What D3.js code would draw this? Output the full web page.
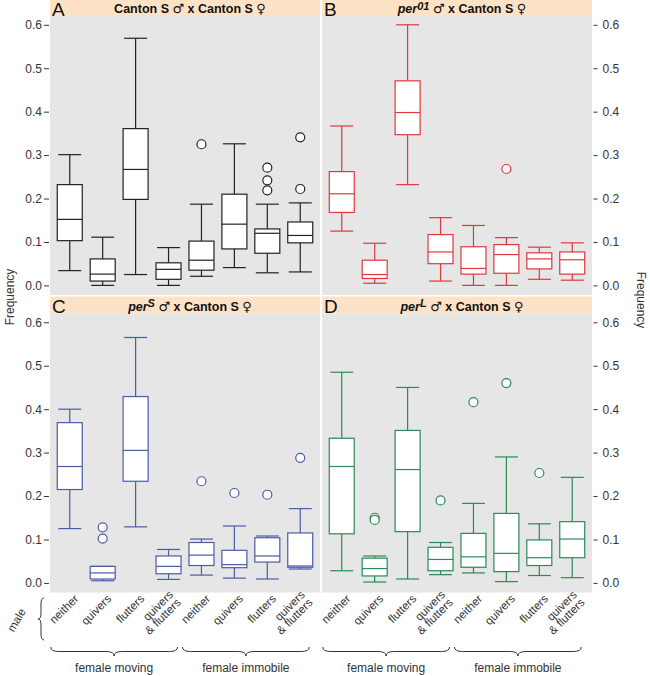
<!DOCTYPE html>
<html><head><meta charset="utf-8">
<script src="https://cdn.jsdelivr.net/npm/d3@7"></script>
<style>body{margin:0;background:#fff}svg{display:block;font-family:"Liberation Sans",Arial,Helvetica,sans-serif}</style>
</head><body><div id="chart"></div>
<script>
// ---- data ----
const categories = ["neither","quivers","flutters","quivers|& flutters","neither","quivers","flutters","quivers|& flutters"];
const groups = ["female moving","female immobile"];
const yTicks = [0,0.1,0.2,0.3,0.4,0.5,0.6];
const panelLetters = ["A","B","C","D"];
const maleLabels = ["", "01", "S", "L"];
const colors = ["#222222","#e0383c","#4a5ca6","#2a8a58"];
// each row: [lower whisker, Q1, median, Q3, upper whisker]
const boxA = [[0.034,0.103,0.152,0.232,0.301],[0.0,0.010,0.026,0.061,0.111],[0.025,0.198,0.267,0.361,0.569],[0.0,0.014,0.037,0.052,0.087],
              [0.021,0.035,0.058,0.102,0.187],[0.041,0.084,0.141,0.210,0.326],[0.029,0.074,0.120,0.130,0.187],[0.031,0.098,0.115,0.146,0.190]];
const outA = [[],[],[],[],[0.325],[],[0.271,0.242,0.219],[0.341,0.222]];
const boxB = [[0.125,0.168,0.211,0.262,0.367],[0.005,0.016,0.025,0.058,0.097],[0.232,0.347,0.398,0.471,0.600],[0.010,0.050,0.077,0.117,0.156],
              [0.0,0.026,0.039,0.089,0.138],[0.0,0.028,0.071,0.094,0.110],[0.014,0.038,0.061,0.075,0.088],[0.012,0.026,0.059,0.077,0.098]];
const outB = [[],[],[],[],[],[0.268],[],[]];
const boxC = [[0.125,0.215,0.268,0.369,0.400],[0.005,0.009,0.023,0.038,0.038],[0.129,0.234,0.305,0.429,0.565],[0.008,0.021,0.038,0.062,0.077],
              [0.018,0.040,0.064,0.093,0.101],[0.011,0.035,0.042,0.075,0.131],[0.009,0.048,0.062,0.104,0.108],[0.032,0.036,0.039,0.115,0.171]];
const outC = [[],[0.128,0.102],[],[],[0.234],[0.207],[0.203],[0.288]];
const boxD = [[0.028,0.113,0.268,0.333,0.485],[0.002,0.016,0.033,0.057,0.062],[0.009,0.118,0.261,0.351,0.450],[0.019,0.028,0.054,0.082,0.093],
              [0.023,0.036,0.060,0.114,0.183],[0.003,0.026,0.068,0.160,0.290],[0.017,0.040,0.058,0.099,0.136],[0.012,0.058,0.101,0.141,0.243]];
const outD = [[],[0.150,0.145],[],[0.190],[0.416],[0.460],[0.253],[]];

const boxes = [boxA, boxB, boxC, boxD];
const outliers = [outA, outB, outC, outD];

// ---- layout ----
const W = 650, H = 676;
const svg = d3.select("#chart").append("svg").attr("width", W).attr("height", H);
const cols = [[50,320],[322,592]];
const rows = [0, 297.5];
const headerH = 16, panelH = 295;
const txt = "#333";

panelLetters.forEach((letter, i) => {
  const c = cols[i % 2], r = rows[Math.floor(i / 2)];
  const color = colors[i];
  const g = svg.append("g");
  g.append("rect").attr("x", c[0]).attr("y", r - 1).attr("width", c[1]-c[0]).attr("height", headerH + 1).attr("fill", "#fde2c6");
  g.append("rect").attr("x", c[0]).attr("y", r + headerH).attr("width", c[1]-c[0]).attr("height", panelH - headerH).attr("fill", "#e6e6e6");
  g.append("text").attr("x", c[0] + 2).attr("y", r + 15.5).attr("font-size", 19).attr("fill", "#111").text(letter);
  const t = g.append("text").attr("x", (c[0]+c[1])/2 + 5).attr("y", r + 13).attr("text-anchor", "middle")
    .attr("font-size", 12.5).attr("font-weight", "bold").attr("fill", "#111");
  if (i === 0) {
    t.append("tspan").text("Canton S ");
  } else {
    t.append("tspan").attr("font-style", "italic").text("per");
    t.append("tspan").attr("font-style", "italic").attr("font-size", 11).attr("dy", -3.5).text(maleLabels[i]);
    t.append("tspan").attr("dy", 3.5).text(" ");
  }
  t.append("tspan").attr("font-weight", "normal").attr("font-family", "DejaVu Sans").attr("font-size", 13).text("\u2642");
  t.append("tspan").text(" x Canton S ");
  t.append("tspan").attr("font-weight", "normal").attr("font-family", "DejaVu Sans").attr("font-size", 13).text("\u2640");

  const x = d3.scalePoint().domain(d3.range(8)).range(c).padding(0.6);
  const y = d3.scaleLinear().domain([0, 0.6]).range([r + 285.4, r + 24.8]);

  // axis
  if (i % 2 === 0) {
    const ax = g.append("g").attr("transform", `translate(${c[0]-1},0)`)
      .call(d3.axisLeft(y).tickValues(yTicks).tickFormat(d3.format(".1f")).tickSize(5).tickPadding(2));
    ax.select(".domain").remove();
    ax.selectAll("line").attr("stroke", txt);
    ax.selectAll("text").attr("font-size", 12).attr("fill", txt).attr("font-family", "Liberation Sans, Arial, sans-serif");
  } else {
    const ax = g.append("g").attr("transform", `translate(${c[1]+1.5},0)`)
      .call(d3.axisRight(y).tickValues(yTicks).tickFormat(d3.format(".1f")).tickSize(4).tickPadding(5));
    ax.select(".domain").remove();
    ax.selectAll("line").attr("stroke", txt);
    ax.selectAll("text").attr("font-size", 12).attr("fill", txt).attr("font-family", "Liberation Sans, Arial, sans-serif");
  }

  const bw = 25, cw = 23;
  boxes[i].forEach((b, k) => {
    const cx = x(k);
    const bg = g.append("g").attr("stroke", color).attr("stroke-width", 1.2).attr("fill", "none");
    bg.append("line").attr("x1", cx).attr("x2", cx).attr("y1", y(b[0])).attr("y2", y(b[1]));
    bg.append("line").attr("x1", cx).attr("x2", cx).attr("y1", y(b[3])).attr("y2", y(b[4]));
    bg.append("line").attr("x1", cx - cw/2).attr("x2", cx + cw/2).attr("y1", y(b[0])).attr("y2", y(b[0]));
    bg.append("line").attr("x1", cx - cw/2).attr("x2", cx + cw/2).attr("y1", y(b[4])).attr("y2", y(b[4]));
    bg.append("rect").attr("x", cx - bw/2).attr("width", bw).attr("y", y(b[3])).attr("height", y(b[1]) - y(b[3])).attr("fill", "#fff");
    bg.append("line").attr("x1", cx - bw/2).attr("x2", cx + bw/2).attr("y1", y(b[2])).attr("y2", y(b[2]));
    outliers[i][k].forEach(o => {
      bg.append("circle").attr("cx", cx).attr("cy", y(o)).attr("r", 4.5).attr("fill", "#fff");
    });
  });

  // bottom category labels & group braces for bottom row
  if (i >= 2) {
    const lg = g.append("g").attr("fill", txt).attr("font-size", 11.5);
    categories.forEach((cat, k) => {
      const lines = cat.split("|");
      const tx = lg.append("text").attr("text-anchor", "end")
        .attr("transform", `translate(${x(k) + 7},${597}) rotate(-45)`);
      if (lines.length === 1) {
        tx.append("tspan").attr("x", 0).attr("dy", "0.3em").text(lines[0]);
      } else {
        tx.append("tspan").attr("x", 0).attr("dy", "-0.2em").text(lines[0]);
        tx.append("tspan").attr("x", 0).attr("dy", "0.95em").text(lines[1]);
      }
    });
    groups.forEach((grp, gi) => {
      const a = x(gi * 4) - 19, b = x(gi * 4 + 3) + 9;
      const mid = (a + b) / 2, yb = 647, h = 9, q = h / 2;
      const p = `M${a},${yb} Q${a},${yb+q} ${a+8},${yb+q} L${mid-8},${yb+q} Q${mid},${yb+q} ${mid},${yb+h} Q${mid},${yb+q} ${mid+8},${yb+q} L${b-8},${yb+q} Q${b},${yb+q} ${b},${yb}`;
      g.append("path").attr("d", p).attr("fill", "none").attr("stroke", txt).attr("stroke-width", 1);
      g.append("text").attr("x", mid).attr("y", 672).attr("text-anchor", "middle").attr("font-size", 12).attr("fill", txt).text(grp);
    });
  }
});

// axis titles
svg.append("text").attr("transform", "translate(14,297) rotate(-90)").attr("text-anchor", "middle")
  .attr("font-size", 12).attr("fill", txt).text("Frequency");
svg.append("text").attr("transform", "translate(637,300) rotate(90)").attr("text-anchor", "middle")
  .attr("font-size", 12).attr("fill", txt).text("Frequency");

// "male" and vertical brace
svg.append("text").attr("transform", "translate(20,622) rotate(-60)").attr("text-anchor", "middle")
  .attr("font-size", 11.5).attr("fill", txt).text("male");
{
  const xb = 44, y1 = 598, y2 = 640, mid = (y1 + y2) / 2, w = 6, q = w / 2;
  const p = `M${xb},${y1} Q${xb-q},${y1} ${xb-q},${y1+6} L${xb-q},${mid-6} Q${xb-q},${mid} ${xb-w},${mid} Q${xb-q},${mid} ${xb-q},${mid+6} L${xb-q},${y2-6} Q${xb-q},${y2} ${xb},${y2}`;
  svg.append("path").attr("d", p).attr("fill", "none").attr("stroke", txt).attr("stroke-width", 1);
}
</script>
</body></html>
